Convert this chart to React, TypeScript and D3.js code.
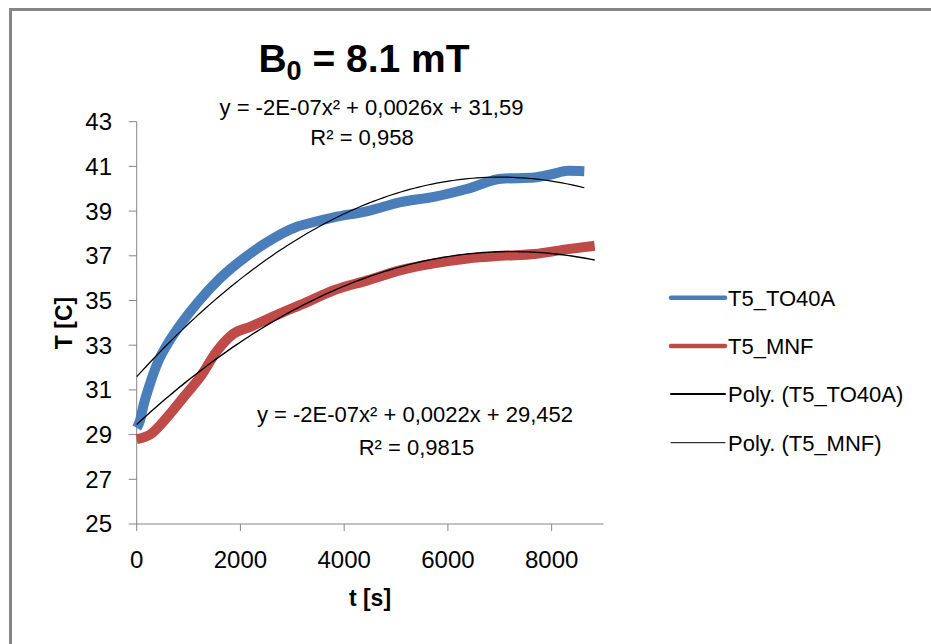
import React from 'react';
import * as d3 from 'd3';

const timeTO40A = [0, 60, 130, 260, 420, 580, 900, 1190, 1610, 2100, 2480, 3090, 3400, 3800, 4450, 5090, 5730, 6380, 7030, 7670, 8000, 8320, 8630];
const tempTO40A = [29.3, 29.6, 30.3, 31.3, 32.3, 33.0, 34.1, 34.95, 36.0, 36.95, 37.56, 38.3, 38.5, 38.72, 39.0, 39.4, 39.64, 40.0, 40.45, 40.5, 40.65, 40.8, 40.78];

const timeMNF = [0, 257, 580, 900, 1224, 1547, 1868, 2191, 2514, 2836, 3160, 3803, 4448, 5092, 5737, 6382, 7026, 7671, 8316, 8830];
const tempMNF = [28.8, 29.0, 29.76, 30.66, 31.58, 32.74, 33.52, 33.82, 34.16, 34.49, 34.8, 35.46, 35.9, 36.36, 36.66, 36.88, 37.0, 37.08, 37.3, 37.45];

// polynomial trend coefficients [a, b, c] for a*x^2 + b*x + c
const trendTO40A = [-1.82e-7, 0.00255, 31.59];
const trendMNF = [-1.48e-7, 0.00214, 29.452];

const xTicks = [0, 2000, 4000, 6000, 8000];
const yTicks = [25, 27, 29, 31, 33, 35, 37, 39, 41, 43];

const legendLabels = ['T5_TO40A', 'T5_MNF', 'Poly. (T5_TO40A)', 'Poly. (T5_MNF)'];

const FONT = "'Liberation Sans', Arial, sans-serif";
const BLUE = '#4a7ebb';
const RED = '#be4b48';
const AXIS = '#868686';

const x = d3.scaleLinear().domain([0, 9000]).range([136.7, 603.5]);
const y = d3.scaleLinear().domain([25, 43]).range([524, 121.7]);

const seriesLine = d3.line<[number, number]>()
  .x(d => x(d[0]))
  .y(d => y(d[1]))
  .curve(d3.curveMonotoneX);

const zip = (xs: number[], ys: number[]) => xs.map((v, i) => [v, ys[i]] as [number, number]);

const trendPoints = (coef: number[], xs: number[]) => {
  const lo = d3.min(xs) as number;
  const hi = d3.max(xs) as number;
  return d3.range(0, 101).map(i => {
    const t = lo + (hi - lo) * i / 100;
    return [t, coef[0] * t * t + coef[1] * t + coef[2]] as [number, number];
  });
};

const App = () => {
  const legendItems = [
    { label: legendLabels[0], color: BLUE, w: 4.5, y: 297.7 },
    { label: legendLabels[1], color: RED, w: 4.5, y: 346 },
    { label: legendLabels[2], color: '#000', w: 2, y: 394 },
    { label: legendLabels[3], color: '#000', w: 1, y: 442.7 },
  ];

  return (
    <svg width={931} height={644} style={{ position: 'absolute', left: 0, top: 0, background: '#fff' }}
      fontFamily={FONT}>
      <rect x={0} y={0} width={931} height={644} fill="#fff" />
      {/* frame */}
      <line x1={10.5} y1={9.5} x2={931} y2={9.5} stroke={AXIS} strokeWidth={3} />
      <line x1={10.5} y1={8} x2={10.5} y2={644} stroke={AXIS} strokeWidth={3} />

      {/* title */}
      <text x={364} y={71.7} textAnchor="middle" fontSize={39} fontWeight="bold" fill="#000">
        B<tspan fontSize={27} dy={8}>0</tspan><tspan dy={-8}> = 8.1 mT</tspan>
      </text>

      {/* axes */}
      <line x1={x(0)} y1={y(25)} x2={x(9000)} y2={y(25)} stroke={AXIS} strokeWidth={1} />
      <line x1={x(0)} y1={y(25)} x2={x(0)} y2={y(43)} stroke={AXIS} strokeWidth={1} />
      {yTicks.map(t => (
        <g key={'y' + t}>
          <line x1={x(0) - 8} x2={x(0)} y1={y(t)} y2={y(t)} stroke={AXIS} />
          <text x={112} y={y(t)} dy="0.35em" textAnchor="end" fontSize={24} fill="#000">{t}</text>
        </g>
      ))}
      {xTicks.map(t => (
        <g key={'x' + t}>
          <line x1={x(t)} x2={x(t)} y1={y(25)} y2={y(25) + 7} stroke={AXIS} />
          <text x={x(t)} y={568} textAnchor="middle" fontSize={24} fill="#000">{t}</text>
        </g>
      ))}
      <text x={370} y={606} textAnchor="middle" fontSize={23} fontWeight="bold">t [s]</text>
      <text transform="translate(72,323) rotate(-90)" textAnchor="middle" fontSize={23} fontWeight="bold">T [C]</text>

      {/* series */}
      <path d={seriesLine(zip(timeTO40A, tempTO40A)) || ''} fill="none" stroke={BLUE} strokeWidth={10} strokeLinejoin="round" />
      <path d={seriesLine(zip(timeMNF, tempMNF)) || ''} fill="none" stroke={RED} strokeWidth={10} strokeLinejoin="round" />

      {/* trend lines */}
      <path d={seriesLine(trendPoints(trendTO40A, timeTO40A)) || ''} fill="none" stroke="#000" strokeWidth={1.2} />
      <path d={seriesLine(trendPoints(trendMNF, timeMNF)) || ''} fill="none" stroke="#000" strokeWidth={1.4} />

      {/* trend equations */}
      <text x={371.5} y={115} textAnchor="middle" fontSize={22}>y = -2E-07x² + 0,0026x + 31,59</text>
      <text x={362} y={145} textAnchor="middle" fontSize={22}>R² = 0,958</text>
      <text x={415} y={421.7} textAnchor="middle" fontSize={22}>y = -2E-07x² + 0,0022x + 29,452</text>
      <text x={416.5} y={455} textAnchor="middle" fontSize={22}>R² = 0,9815</text>

      {/* legend */}
      {legendItems.map(it => (
        <g key={it.label}>
          <line x1={671} x2={725} y1={it.y} y2={it.y} stroke={it.color} strokeWidth={it.w} strokeLinecap="round" />
          <text x={728} y={it.y + 8} fontSize={22} fill="#000">{it.label}</text>
        </g>
      ))}
    </svg>
  );
};

export default App;
